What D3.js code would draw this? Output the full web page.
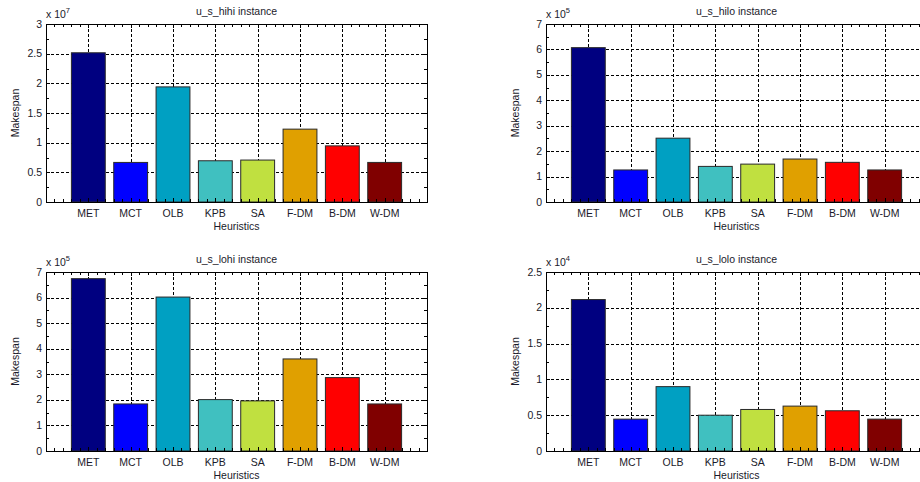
<!DOCTYPE html>
<html>
<head>
<meta charset="utf-8">
<script src="https://cdn.jsdelivr.net/npm/d3@7"></script>
<style>
  html, body { margin: 0; padding: 0; background: #fff; }
  svg { display: block; }
  text { font-family: "Liberation Sans", Arial, sans-serif; fill: #1a1a2a; }
</style>
</head>
<body>
<svg id="fig" width="920" height="482"></svg>
<script>
// Heuristic names shared by all four instances
const heuristics = ["MET", "MCT", "OLB", "KPB", "SA", "F-DM", "B-DM", "W-DM"];
const barColors = ["#000080", "#0000ff", "#00a0c2", "#40c0c0", "#c0e040", "#e0a000", "#ff0000", "#800000"];

// Makespan per heuristic, in units of 10^exponent
const hihiValues = [2.515, 0.667, 1.94, 0.695, 0.707, 1.228, 0.946, 0.667];
const hiloValues = [6.07, 1.26, 2.51, 1.40, 1.49, 1.69, 1.56, 1.26];
const lohiValues = [6.74, 1.84, 6.02, 2.01, 1.96, 3.60, 2.87, 1.84];
const loloValues = [2.115, 0.445, 0.899, 0.50, 0.58, 0.627, 0.562, 0.445];

// Y tick labels per instance
const hihiTicks = [0, 0.5, 1, 1.5, 2, 2.5, 3];
const hiloTicks = [0, 1, 2, 3, 4, 5, 6, 7];
const lohiTicks = [0, 1, 2, 3, 4, 5, 6, 7];
const loloTicks = [0, 0.5, 1, 1.5, 2, 2.5];

const panels = [
  { title: "u_s_hihi instance", values: hihiValues, ticks: hihiTicks, exponent: 7, box: [46, 24, 427, 202] },
  { title: "u_s_hilo instance", values: hiloValues, ticks: hiloTicks, exponent: 5, box: [546, 24, 927, 202] },
  { title: "u_s_lohi instance", values: lohiValues, ticks: lohiTicks, exponent: 5, box: [46, 272, 427, 451] },
  { title: "u_s_lolo instance", values: loloValues, ticks: loloTicks, exponent: 4, box: [546, 272, 927, 451] }
];

const svg = d3.select("#fig");

function drawPanel(p) {
  const [x0, y0, x1, y1] = p.box;
  const g = svg.append("g");
  const ticks = p.ticks;
  const step = ticks[1] - ticks[0];

  const x = d3.scaleLinear().domain([0, heuristics.length + 1]).range([x0, x1]);
  const y = d3.scaleLinear().domain([ticks[0], ticks[ticks.length - 1]]).range([y1, y0]);
  const barW = (x(1) - x(0)) * 0.8;

  // dashed grid at major ticks
  const grid = g.append("g").attr("stroke", "#000").attr("stroke-width", 1)
    .attr("stroke-dasharray", "3,2").attr("shape-rendering", "crispEdges");
  grid.selectAll("line.h").data(ticks.slice(1, -1)).join("line")
    .attr("x1", x0).attr("x2", x1)
    .attr("y1", d => Math.round(y(d)) + 0.5).attr("y2", d => Math.round(y(d)) + 0.5);
  grid.selectAll("line.v").data(d3.range(1, heuristics.length + 1)).join("line")
    .attr("y1", y0).attr("y2", y1)
    .attr("x1", d => Math.round(x(d)) + 0.5).attr("x2", d => Math.round(x(d)) + 0.5);

  // bars
  g.selectAll("rect.bar").data(p.values).join("rect")
    .attr("x", (d, i) => x(i + 1) - barW / 2)
    .attr("width", barW)
    .attr("y", d => y(d))
    .attr("height", d => y(0) - y(d))
    .attr("fill", (d, i) => barColors[i])
    .attr("stroke", "#2a2a2a").attr("stroke-width", 1);

  // minor and major ticks on all four sides, pointing inward
  const tk = g.append("g").attr("stroke", "#000").attr("stroke-width", 1).attr("shape-rendering", "crispEdges");
  const xMinor = d3.range(0, (heuristics.length + 1) * 5 + 1).map(k => k / 5).filter(v => v > 0 && v < heuristics.length + 1);
  xMinor.forEach(v => {
    const px = Math.round(x(v)) + 0.5;
    const isMajor = Math.abs(v - Math.round(v)) < 1e-9;
    const len = isMajor ? 4 : 3;
    tk.append("line").attr("x1", px).attr("x2", px).attr("y1", y1).attr("y2", y1 - len);
    tk.append("line").attr("x1", px).attr("x2", px).attr("y1", y0).attr("y2", y0 + len);
  });
  const yMinor = d3.range(0, (ticks.length - 1) * 2 + 1).map(k => ticks[0] + k * step / 2);
  yMinor.forEach((v, k) => {
    const py = Math.round(y(v)) + 0.5;
    const len = k % 2 === 0 ? 4 : 3;
    tk.append("line").attr("x1", x0).attr("x2", x0 + len).attr("y1", py).attr("y2", py);
    tk.append("line").attr("x1", x1).attr("x2", x1 - len).attr("y1", py).attr("y2", py);
  });

  // axes box
  g.append("rect").attr("x", x0 + 0.5).attr("y", y0 + 0.5)
    .attr("width", x1 - x0).attr("height", y1 - y0)
    .attr("fill", "none").attr("stroke", "#000").attr("stroke-width", 1)
    .attr("shape-rendering", "crispEdges");

  // y tick labels
  g.selectAll("text.yt").data(ticks).join("text")
    .attr("x", x0 - 4).attr("y", d => y(d) + 3.5)
    .attr("text-anchor", "end").attr("font-size", 10.5)
    .text(d => d3.format("~g")(d));

  // x tick labels
  g.selectAll("text.xt").data(heuristics).join("text")
    .attr("x", (d, i) => x(i + 1)).attr("y", y1 + 15)
    .attr("text-anchor", "middle").attr("font-size", 10.5)
    .text(d => d);

  // exponent label
  const ex = g.append("text").attr("x", x0).attr("y", y0 - 6).attr("font-size", 10.5);
  ex.append("tspan").text("x 10");
  ex.append("tspan").attr("dy", -5).attr("font-size", 7.5).text(p.exponent);

  // title and axis labels
  g.append("text").attr("x", (x0 + x1) / 2).attr("y", y0 - 9)
    .attr("text-anchor", "middle").attr("font-size", 10.5).text(p.title);
  g.append("text").attr("x", (x0 + x1) / 2).attr("y", y1 + 28)
    .attr("text-anchor", "middle").attr("font-size", 10.5).text("Heuristics");
  g.append("text")
    .attr("transform", `translate(${x0 - 27},${(y0 + y1) / 2}) rotate(-90)`)
    .attr("text-anchor", "middle").attr("font-size", 10.5).text("Makespan");
}

panels.forEach(drawPanel);
</script>
</body>
</html>
